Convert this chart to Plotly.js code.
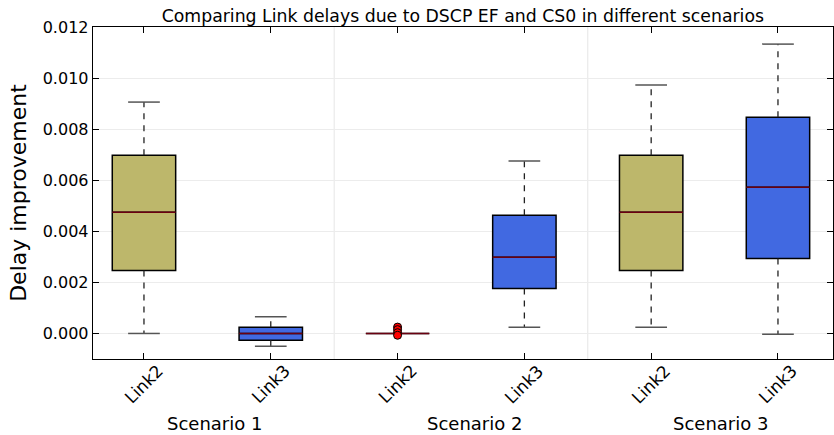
<!DOCTYPE html>
<html>
<head>
<meta charset="utf-8">
<script src="https://cdn.plot.ly/plotly-3.0.1.min.js"></script>
<style>html,body{margin:0;padding:0;background:#fff;}#chart{width:834px;height:435px;}</style>
</head>
<body>
<div id="chart"></div>
<script>
// ---- data ----
var positions = [1, 2, 3, 4, 5, 6];
var tickLabels = ["Link2", "Link3", "Link2", "Link3", "Link2", "Link3"];
var lowerFence = [0.0000, -0.00050, 0.0, 0.00024, 0.00024, -0.00003];
var q1Values   = [0.00247, -0.00027, 0.0, 0.00176, 0.00247, 0.00294];
var medians    = [0.00475, 0.00000, 0.0, 0.00298, 0.00475, 0.00573];
var q3Values   = [0.00698, 0.00024, 0.0, 0.00463, 0.00698, 0.00847];
var upperFence = [0.00906, 0.00065, 0.0, 0.00675, 0.00973, 0.01133];
var boxColors  = ["#BDB76B", "#4169E1", "#BDB76B", "#4169E1", "#BDB76B", "#4169E1"];
var outlierPos = [3, 3, 3, 3];
var outlierValues = [0.00025, 0.00015, 0.00003, -0.00007];
var scenarioLabels = ["Scenario 1", "Scenario 2", "Scenario 3"];
var scenarioLabelPos = [1.56, 3.61, 5.55];
var separators = [2.5, 4.5];
var yTicks = [0, 0.002, 0.004, 0.006, 0.008, 0.010, 0.012];

var boxWidth = 0.5, capWidth = 0.25;
var traces = [];

// boxes
for (var i = 0; i < positions.length; i++) {
  traces.push({
    type: "box", x: [positions[i]],
    q1: [q1Values[i]], median: [medians[i]], q3: [q3Values[i]],
    lowerfence: [q1Values[i]], upperfence: [q3Values[i]],
    width: boxWidth, whiskerwidth: 0,
    fillcolor: boxColors[i],
    line: {color: "#000000", width: 1.5},
    boxpoints: false, showlegend: false, hoverinfo: "skip"
  });
}
// whiskers (dashed) and caps
var wx = [], wy = [], cx = [], cy = [], mx = [], my = [];
for (var j = 0; j < positions.length; j++) {
  var p = positions[j];
  wx.push(p, p, null, p, p, null);
  wy.push(q3Values[j], upperFence[j], null, q1Values[j], lowerFence[j], null);
  if (upperFence[j] !== lowerFence[j]) {
    cx.push(p - capWidth / 2, p + capWidth / 2, null, p - capWidth / 2, p + capWidth / 2, null);
    cy.push(upperFence[j], upperFence[j], null, lowerFence[j], lowerFence[j], null);
  }
  mx.push(p - boxWidth / 2, p + boxWidth / 2, null);
  my.push(medians[j], medians[j], null);
}
traces.push({type: "scatter", mode: "lines", x: wx, y: wy, line: {color: "#222222", width: 1.3, dash: "6px,6px"}, showlegend: false, hoverinfo: "skip"});
traces.push({type: "scatter", mode: "lines", x: cx, y: cy, line: {color: "#555555", width: 1.5}, showlegend: false, hoverinfo: "skip"});
traces.push({type: "scatter", mode: "lines", x: mx, y: my, line: {color: "#6a0010", width: 1.5}, showlegend: false, hoverinfo: "skip"});
traces.push({type: "scatter", mode: "markers", x: outlierPos, y: outlierValues,
  marker: {color: "#ff0000", size: 8, line: {color: "#000000", width: 1}}, showlegend: false, hoverinfo: "skip"});

var shapes = separators.map(function (s) {
  return {type: "line", xref: "x", yref: "paper", x0: s, x1: s, y0: 0, y1: 1, layer: "below",
    line: {color: "#e6e6e6", width: 1}};
});
var annotations = scenarioLabels.map(function (t, k) {
  return {text: t, x: scenarioLabelPos[k], xref: "x", y: 0, yref: "paper", yshift: -64,
    yanchor: "middle", xanchor: "center", showarrow: false,
    font: {family: "DejaVu Sans", size: 18, color: "#000"}};
});
// rotated tick labels centred on their ticks (matplotlib style)
tickLabels.forEach(function (t, k) {
  annotations.push({text: t, x: positions[k], xref: "x", y: 0, yref: "paper", yshift: -25,
    textangle: -45, xanchor: "center", yanchor: "middle", showarrow: false,
    font: {family: "DejaVu Sans", size: 17, color: "#000"}});
});

var layout = {
  width: 834, height: 435,
  margin: {l: 93, r: 1, t: 27, b: 76},
  paper_bgcolor: "#ffffff", plot_bgcolor: "#ffffff",
  font: {family: "DejaVu Sans", color: "#000"},
  title: {text: "Comparing Link delays due to DSCP EF and CS0 in different scenarios",
    font: {family: "DejaVu Sans", size: 17.3, color: "#000"}, x: 0.555, xanchor: "center", y: 0.963, yanchor: "middle"},
  xaxis: {range: [0.598, 6.434], tickvals: positions, ticktext: tickLabels, showticklabels: false,
    ticks: "inside", ticklen: 6, tickcolor: "#000", showline: true, linecolor: "#000", linewidth: 1.3,
    mirror: "ticks", showgrid: false, zeroline: false},
  yaxis: {range: [-0.001, 0.012], tickvals: yTicks, tickformat: ".3f",
    ticks: "inside", ticklen: 6, tickcolor: "#000", showline: true, linecolor: "#000", linewidth: 1.3,
    mirror: "ticks", showgrid: true, gridcolor: "#ececec", gridwidth: 1, zeroline: false,
    tickfont: {family: "DejaVu Sans", size: 16, color: "#000"},
    title: {text: "Delay improvement", font: {family: "DejaVu Sans", size: 22, color: "#000"}, standoff: 10}},
  shapes: shapes,
  annotations: annotations
};

Plotly.newPlot("chart", traces, layout, {staticPlot: true, displayModeBar: false});
</script>
</body>
</html>
